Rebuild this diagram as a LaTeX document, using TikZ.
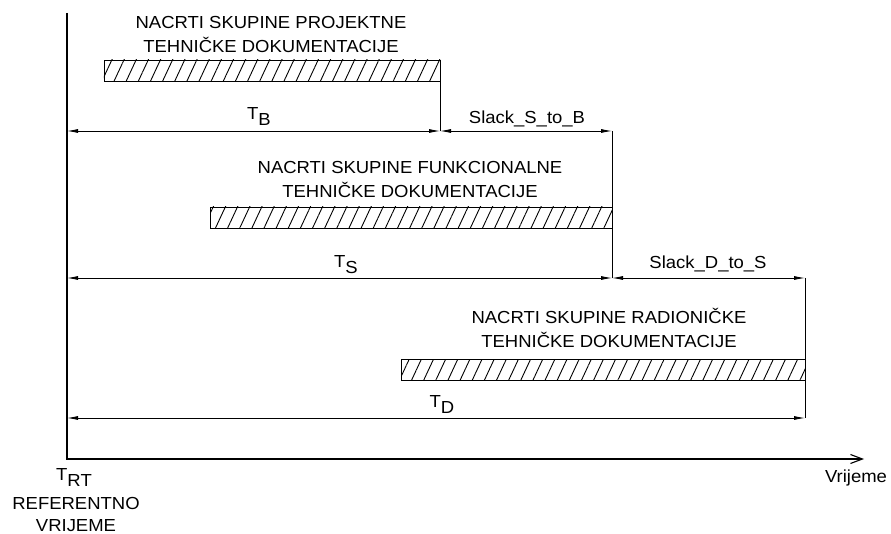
\documentclass[tikz,border=0pt]{standalone}
\usepackage{fontspec}
\setmainfont{Liberation Sans}[FakeStretch=1.06]
\usetikzlibrary{arrows.meta, patterns.meta}
\newcommand\tsub[1]{T\raisebox{-6bp}{#1}}
\tikzset{
  x=1bp, y=-1bp,
  font=\fontsize{17.5}{25}\selectfont,
  every node/.style={inner sep=0pt, outer sep=0pt},
  bar/.style={
    draw, line width=0.8pt, minimum height=21bp,
    pattern={Lines[angle=65, distance=11bp, line width=0.9pt]}
  },
  axis/.style={line width=1.6pt, -{Straight Barb[length=12bp,width=9bp,line width=1.1pt]}},
  dim/.style={line width=0.8pt, {Latex[length=11bp,width=4bp]}-{Latex[length=11bp,width=4bp]}},
  tick/.style={line width=0.8pt},
  txt/.style={align=center, anchor=base},
  lab/.style={anchor=base}
}
\begin{document}
\begin{tikzpicture}
  \useasboundingbox (0,0) rectangle (891,534);
  \coordinate (o) at (67,459);
  \coordinate (top) at (67,13);
  \coordinate (tend) at (864,459);
  \coordinate (yB) at (0,131);
  \coordinate (yS) at (0,278);
  \coordinate (yD) at (0,418);
  % axes
  \draw[axis] (top) -- (o) -- (tend);
  % bars
  \node[bar, minimum width=336bp] (barB) at (272,70.5) {};
  \node[bar, minimum width=402bp] (barS) at (411,217.5) {};
  \node[bar, minimum width=404bp] (barD) at (603,370) {};
  \node[txt] (txB) at (271,53) {NACRTI SKUPINE PROJEKTNE\\TEHNIČKE DOKUMENTACIJE};
  \node[txt] (txS) at (410,198) {NACRTI SKUPINE FUNKCIONALNE\\TEHNIČKE DOKUMENTACIJE};
  \node[txt] (txD) at (609,348) {NACRTI SKUPINE RADIONIČKE\\TEHNIČKE DOKUMENTACIJE};
  % ticks
  \draw[tick] (barB.south east) -- (barB.east |- yB);
  \draw[tick] (barS.east |- yB) -- (barS.east |- yS);
  \draw[tick] (barD.east |- yS) -- (barD.east |- yD);
  % dimensions
  \draw[dim] (o |- yB) -- (barB.east |- yB);
  \draw[dim] (barB.east |- yB) -- (barS.east |- yB);
  \draw[dim] (o |- yS) -- (barS.east |- yS);
  \draw[dim] (barS.east |- yS) -- (barD.east |- yS);
  \draw[dim] (o |- yD) -- (barD.east |- yD);
  \node[lab] (lB) at (259,120) {\tsub{B}};
  \node[lab] (lSB) at (527,124) {Slack\_S\_to\_B};
  \node[lab] (lS) at (346,268) {\tsub{S}};
  \node[lab] (lDS) at (708,269) {Slack\_D\_to\_S};
  \node[lab] (lD) at (442,407) {\tsub{D}};
  % time axis
  \node[lab] (lRT) at (74,480) {\tsub{RT}};
  \node[txt] (ref) at (76,531) {REFERENTNO\\[-3bp]VRIJEME};
  \node[anchor=base east] (time) at (887,482) {Vrijeme};
\end{tikzpicture}
\end{document}
